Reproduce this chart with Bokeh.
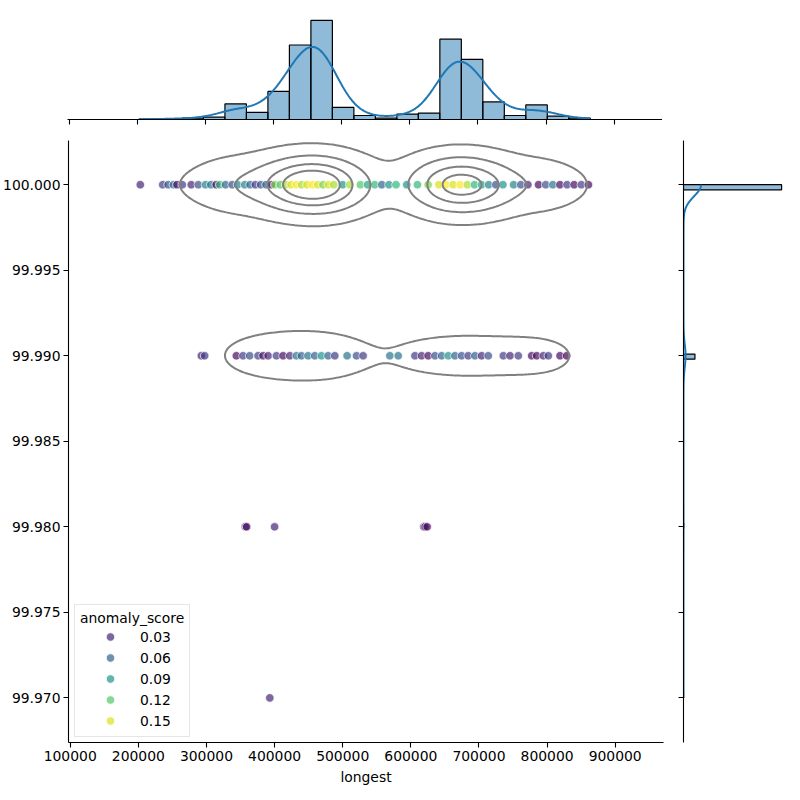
import numpy as np
from bokeh.plotting import figure
from bokeh.layouts import column, row
from bokeh.models import Range1d, FixedTicker, PrintfTickFormatter, Legend, LegendItem
from bokeh.palettes import Viridis256
from bokeh.embed import file_html
from bokeh.resources import INLINE

FONT = "DejaVu Sans"
FS = "13.9px"

# ---------------------------------------------------------------- data
# 'longest' binned into 21 equal-width bins between the sample min and max
longest_min = 202400
longest_max = 864900
n_longest_bins = 21
counts_pct_100 = [2, 4, 7, 13, 82, 23, 140, 415, 567, 55, 18, 5, 21, 22, 465, 343, 90, 8, 70, 8, 8]
counts_pct_9999 = [0, 0, 1, 1, 10, 20, 27, 34, 30, 18, 6, 3, 12, 14, 19, 19, 16, 16, 18, 12, 0]
longest_pct_9998 = [357000, 359000, 400000, 619000, 621000, 624000]
longest_pct_9997 = [393000]

# scatter markers: longest (thousands) and anomaly score per pct level
marker_100_longest = [202.9, 235.8, 243.7, 251.5, 256.7, 264.6, 277.7, 288.1, 298.6, 306.4,
                      314.3, 319.5, 328.0, 337.8, 345.6, 356.1, 364.0, 371.8, 379.6, 387.5,
                      395.3, 400.5, 408.4, 416.2, 424.1, 431.9, 439.8, 447.6, 455.5, 463.3,
                      471.1, 479.0, 486.8, 499.9, 510.4, 526.0, 536.5, 547.0, 557.4, 567.9,
                      578.3, 594.0, 609.7, 625.4, 641.1, 651.6, 662.0, 672.5, 683.0, 693.4,
                      703.9, 714.3, 724.8, 735.2, 750.9, 761.4, 771.8, 787.5, 798.0, 808.5,
                      818.9, 829.4, 839.8, 850.3, 860.7]
marker_100_score = [0.03, 0.04, 0.05, 0.07, 0.02, 0.04, 0.03, 0.05, 0.08, 0.07,
                    0.02, 0.11, 0.06, 0.05, 0.08, 0.08, 0.06, 0.04, 0.05, 0.06,
                    0.02, 0.13, 0.12, 0.14, 0.15, 0.16, 0.14, 0.15, 0.16, 0.15,
                    0.13, 0.15, 0.14, 0.09, 0.14, 0.12, 0.10, 0.11, 0.06, 0.09,
                    0.11, 0.09, 0.11, 0.13, 0.15, 0.16, 0.15, 0.16, 0.14, 0.11,
                    0.10, 0.08, 0.05, 0.09, 0.08, 0.05, 0.03, 0.02, 0.05, 0.07,
                    0.02, 0.04, 0.02, 0.04, 0.02]
marker_9999_longest = [292.5, 297.4, 343.9, 353.7, 363.5, 375.8, 383.1, 390.5, 402.7, 412.5,
                       422.3, 432.1, 439.4, 449.2, 459.0, 468.8, 478.6, 488.4, 506.5, 520.3,
                       530.0, 569.2, 581.5, 606.0, 615.8, 625.5, 635.4, 645.2, 655.0, 664.7,
                       674.5, 684.3, 694.1, 703.9, 713.7, 735.8, 745.6, 757.8, 777.4, 784.7,
                       794.5, 801.9, 819.0, 828.8]
marker_9999_score = [0.03, 0.04, 0.02, 0.04, 0.05, 0.04, 0.02, 0.03, 0.04, 0.02,
                     0.03, 0.07, 0.06, 0.07, 0.06, 0.09, 0.06, 0.04, 0.07, 0.05,
                     0.04, 0.07, 0.07, 0.04, 0.03, 0.02, 0.05, 0.06, 0.09, 0.06,
                     0.05, 0.04, 0.06, 0.03, 0.05, 0.04, 0.03, 0.04, 0.02, 0.02,
                     0.03, 0.04, 0.02, 0.01]
score_9998 = [0.03, 0.02, 0.03, 0.02, 0.03, 0.02]
score_9997 = [0.03]

x_ticks = [100000, 200000, 300000, 400000, 500000, 600000, 700000, 800000, 900000]
y_ticks = [99.970, 99.975, 99.980, 99.985, 99.990, 99.995, 100.000]
legend_scores = [0.03, 0.06, 0.09, 0.12, 0.15]
score_lo, score_hi = 0.015, 0.158

# ------------------------------------------------------------ helpers
def viridis(s):
    t = np.clip((np.asarray(s, float) - score_lo) / (score_hi - score_lo), 0, 1)
    return [Viridis256[int(round(v * 255))] for v in np.atleast_1d(t)]


def style_axis(ax, labels=True):
    ax.axis_line_color = "black"
    ax.axis_line_width = 1.1
    ax.major_tick_line_color = "black"
    ax.major_tick_line_width = 1.1
    ax.major_tick_in = 0
    ax.major_tick_out = 5
    ax.minor_tick_line_color = None
    ax.major_label_text_font = FONT
    if labels:
        ax.major_label_text_color = "black"
        ax.major_label_text_font_size = FS
        ax.major_label_standoff = 3
    else:
        # marginal axes carry ticks only
        ax.major_label_text_color = None
        ax.major_label_text_font_size = "1px"
        ax.major_label_standoff = 0


def wstd(v, w):
    m = np.average(v, weights=w)
    return np.sqrt(np.average((v - m) ** 2, weights=w))


# ------------------------------------------------------- derived data
edges = np.linspace(longest_min, longest_max, n_longest_bins + 1)
centers = 0.5 * (edges[:-1] + edges[1:])
bin_w = edges[1] - edges[0]
c100 = np.array(counts_pct_100, float)
c9999 = np.array(counts_pct_9999, float)
low_x = np.array(longest_pct_9998 + longest_pct_9997, float)

pts_x = np.concatenate([centers, centers, low_x])
pts_y = np.concatenate([np.full(len(centers), 100.0), np.full(len(centers), 99.99),
                        np.full(len(longest_pct_9998), 99.98), np.full(len(longest_pct_9997), 99.97)])
pts_w = np.concatenate([c100, c9999, np.ones(len(low_x))])
keep = pts_w > 0
pts_x, pts_y, pts_w = pts_x[keep], pts_y[keep], pts_w[keep]
n_total = pts_w.sum()

top_counts = c100 + c9999 + np.histogram(low_x, bins=edges)[0]

# marginal KDE of longest (scaled to counts)
bw_x = n_total ** (-0.2) * wstd(pts_x, pts_w)
xg = np.linspace(longest_min, longest_max, 300)
dens_x = (pts_w[:, None] * np.exp(-0.5 * ((xg[None, :] - pts_x[:, None]) / bw_x) ** 2)).sum(0)
dens_x /= n_total * bw_x * np.sqrt(2 * np.pi)
kde_top = dens_x * n_total * bin_w

# marginal histogram + KDE of pct
y_edges = np.linspace(99.97, 100.0, 101)
y_counts, _ = np.histogram(pts_y, bins=y_edges, weights=pts_w)
y_bin_w = y_edges[1] - y_edges[0]
nz = y_counts > 0
bw_y = n_total ** (-0.2) * wstd(pts_y, pts_w)
yg = np.linspace(99.97, 100.0, 600)
dens_y = (pts_w[:, None] * np.exp(-0.5 * ((yg[None, :] - pts_y[:, None]) / bw_y) ** 2)).sum(0)
dens_y /= n_total * bw_y * np.sqrt(2 * np.pi)
kde_right = dens_y * n_total * y_bin_w

# bivariate KDE for the contour layer
cov = np.cov(np.vstack([pts_x, pts_y]), fweights=pts_w.astype(int))
kcov = cov * n_total ** (-1.0 / 3.0)
inv = np.linalg.inv(kcov)
sx, sy = np.sqrt(np.diag(kcov))
gx = np.linspace(pts_x.min() - 3 * sx, pts_x.max() + 3 * sx, 320)
gy = np.linspace(pts_y.min() - 3 * sy, pts_y.max() + 3 * sy, 320)
GX, GY = np.meshgrid(gx, gy)
dens2 = np.zeros_like(GX)
for xi, yi, wi in zip(pts_x, pts_y, pts_w):
    dx = GX - xi
    dy = GY - yi
    q = inv[0, 0] * dx * dx + 2 * inv[0, 1] * dx * dy + inv[1, 1] * dy * dy
    dens2 += wi * np.exp(-0.5 * q)
iso = np.linspace(0.05, 1, 5)[:-1]
vals = np.sort(dens2.ravel())[::-1]
cum = np.cumsum(vals) / vals.sum()
lev = np.sort(np.take(vals, np.searchsorted(cum, 1 - iso), mode="clip"))

# ---------------------------------------------------------- figures
x_range = Range1d(97500, 970900)
y_range = Range1d(99.967392, 100.002585)

p = figure(x_range=x_range, y_range=y_range, frame_width=595, frame_height=602,
           min_border_left=67, min_border_right=10, min_border_top=0, min_border_bottom=60,
           output_backend="svg", toolbar_location=None)
p.outline_line_color = None
p.xgrid.visible = False
p.ygrid.visible = False
style_axis(p.xaxis[0])
style_axis(p.yaxis[0])
p.xaxis.ticker = FixedTicker(ticks=x_ticks)
p.xaxis.formatter = PrintfTickFormatter(format="%d")
p.yaxis.ticker = FixedTicker(ticks=y_ticks)
p.yaxis.formatter = PrintfTickFormatter(format="%.3f")
p.xaxis.axis_label = "longest"
p.xaxis.axis_label_text_font = FONT
p.xaxis.axis_label_text_font_size = FS
p.xaxis.axis_label_text_font_style = "normal"
p.xaxis.axis_label_text_color = "black"
p.xaxis.axis_label_standoff = 5

marker_kw = dict(size=8.5, fill_alpha=0.7, line_color="white", line_width=0.8, line_alpha=0.9)
groups = [
    (np.array(marker_100_longest) * 1000, 100.0, marker_100_score),
    (np.array(marker_9999_longest) * 1000, 99.99, marker_9999_score),
    (np.array(longest_pct_9998, float), 99.98, score_9998),
    (np.array(longest_pct_9997, float), 99.97, score_9997),
]
for xs, lvl, sc in groups:
    p.scatter(x=xs, y=np.full(len(xs), lvl), fill_color=viridis(sc), **marker_kw)

p.contour(gx, gy, dens2, levels=list(lev), line_color="#808080", line_width=2)

items = []
for s in legend_scores:
    r = p.scatter(x=[np.nan], y=[np.nan], fill_color=viridis([s])[0], **marker_kw)
    items.append(LegendItem(label=f"{s:.2f}", renderers=[r]))
legend = Legend(items=items, title="anomaly_score", location=(6, 5),
                title_text_font=FONT, title_text_font_size=FS, title_text_font_style="normal",
                title_text_color="black",
                label_text_font=FONT, label_text_font_size=FS, label_text_color="black",
                border_line_color="#cccccc", border_line_width=1,
                background_fill_color="white", background_fill_alpha=0.8,
                padding=5, spacing=0, margin=0, label_height=21, glyph_height=21,
                glyph_width=60, label_standoff=0, title_standoff=0)
p.add_layout(legend)

# top marginal: histogram of longest
top_max = float(top_counts.max()) * 1.05
pt = figure(x_range=x_range, y_range=Range1d(0, top_max), frame_width=595, frame_height=104,
            min_border_left=67, min_border_right=0, min_border_top=15, min_border_bottom=21,
            y_axis_location=None, output_backend="svg", toolbar_location=None)
pt.outline_line_color = None
pt.xgrid.visible = False
pt.ygrid.visible = False
style_axis(pt.xaxis[0], labels=False)
pt.xaxis.ticker = FixedTicker(ticks=x_ticks)
pt.quad(left=edges[:-1], right=edges[1:], bottom=0, top=top_counts,
        fill_color="#1f77b4", fill_alpha=0.5, line_color="black", line_width=1.2)
pt.line(xg, kde_top, line_color="#1f77b4", line_width=2)

# right marginal: histogram of pct
right_max = float(y_counts.max()) * 1.05
pr = figure(x_range=Range1d(0, right_max), y_range=y_range, frame_width=103, frame_height=602,
            min_border_left=10, min_border_right=5, min_border_top=0, min_border_bottom=60,
            x_axis_location=None, output_backend="svg", toolbar_location=None)
pr.outline_line_color = None
pr.xgrid.visible = False
pr.ygrid.visible = False
style_axis(pr.yaxis[0], labels=False)
pr.yaxis.ticker = FixedTicker(ticks=y_ticks)
pr.quad(left=0, right=y_counts[nz], bottom=y_edges[:-1][nz], top=y_edges[1:][nz],
        fill_color="#1f77b4", fill_alpha=0.5, line_color="black", line_width=1.2)
pr.line(kde_right, yg, line_color="#1f77b4", line_width=2)

layout = column(pt, row(p, pr))
open("out.html", "w").write(file_html(layout, INLINE))
